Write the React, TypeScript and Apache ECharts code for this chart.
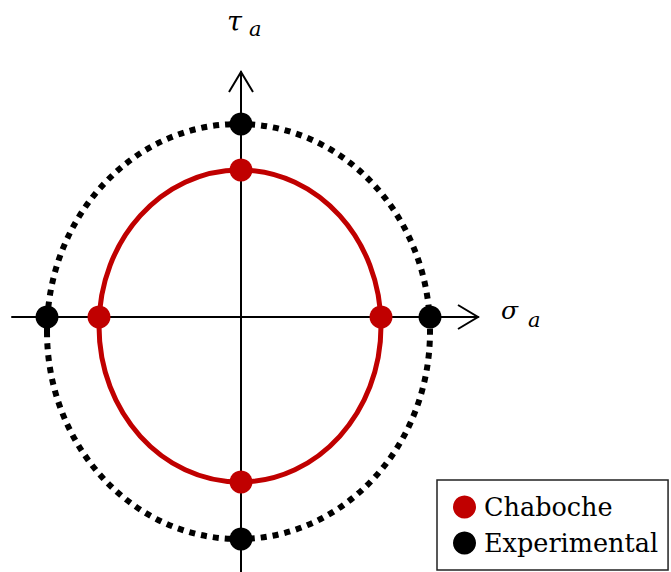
import React, { useEffect, useRef } from "react";
import * as echarts from "echarts";

// Axis extents (data units, origin at the axes' crossing)
const xRange = [-229, 237];
const yRange = [-255, 245];

// Ellipses: [centerX, centerY, radiusX, radiusY]
const chabocheEllipse = [[-1, -9, 141, 156]];
const experimentalEllipse = [[-2.5, -14.5, 191.5, 207.5]];

// Points on the axes
const chabochePoints = [[-142, 0], [140, 0], [0, 147], [0, -165]];
const experimentalPoints = [[-194, 0], [189, 0], [0, 193], [0, -222]];

// Arrow tips
const arrowTips = [[237, 0, 0], [0, 245, 1]];

const seriesNames = ["Chaboche", "Experimental"];
const RED = "#c00000";
const BLACK = "#000000";

export default function App() {
  const ref = useRef<HTMLDivElement>(null);
  useEffect(() => {
    const chart = echarts.init(ref.current!, null, { renderer: "svg" });
    const ellipseRender = (color: string, dash: number[] | null) => (params: any, api: any) => {
      const c = api.coord([api.value(0), api.value(1)]);
      const s = api.size([api.value(2), api.value(3)]);
      return {
        type: "ellipse",
        shape: { cx: c[0], cy: c[1], rx: s[0], ry: s[1] },
        style: { fill: "none", stroke: color, lineWidth: dash ? 6 : 5, lineDash: dash || undefined },
      };
    };
    chart.setOption({
      animation: false,
      grid: { left: 12, right: 671 - 478, top: 72, bottom: 0, containLabel: false },
      xAxis: {
        type: "value",
        min: xRange[0],
        max: xRange[1],
        axisLine: { show: true, onZero: true, lineStyle: { color: "#000", width: 2 } },
        axisTick: { show: false },
        axisLabel: { show: false },
        splitLine: { show: false },
      },
      yAxis: {
        type: "value",
        min: yRange[0],
        max: yRange[1],
        axisLine: { show: true, onZero: true, lineStyle: { color: "#000", width: 2 } },
        axisTick: { show: false },
        axisLabel: { show: false },
        splitLine: { show: false },
      },
      legend: {
        data: seriesNames,
        orient: "vertical",
        left: 437,
        top: 480,
        icon: "circle",
        itemWidth: 23,
        itemHeight: 23,
        itemGap: 10,
        padding: [14, 10, 14, 16],
        borderColor: "#222",
        borderWidth: 1.5,
        backgroundColor: "#fff",
        textStyle: { fontFamily: "DejaVu Serif", fontSize: 25.5, color: "#000", lineHeight: 24, padding: [0, 0, 0, 3] },
      },
      graphic: [
        { type: "text", left: 227, top: 8, style: { text: "τ", font: "italic 27px 'DejaVu Serif'", fill: "#000" } },
        { type: "text", left: 249, top: 18, style: { text: "a", font: "italic 21px 'DejaVu Serif'", fill: "#000" } },
        { type: "text", left: 501, top: 298, style: { text: "σ", font: "italic 25px 'DejaVu Serif'", fill: "#000" } },
        { type: "text", left: 528, top: 309, style: { text: "a", font: "italic 21px 'DejaVu Serif'", fill: "#000" } },
      ],
      series: [
        {
          type: "custom",
          name: "experimental-curve",
          data: experimentalEllipse,
          encode: { x: 0, y: 1 },
          renderItem: ellipseRender(BLACK, [6, 6]),
          z: 2,
        },
        {
          type: "custom",
          name: "chaboche-curve",
          data: chabocheEllipse,
          encode: { x: 0, y: 1 },
          renderItem: ellipseRender(RED, null),
          z: 2,
        },
        {
          type: "custom",
          name: "arrows",
          data: arrowTips,
          encode: { x: 0, y: 1 },
          renderItem: (params: any, api: any) => {
            const p = api.coord([api.value(0), api.value(1)]);
            const horiz = api.value(2) === 0;
            const pts = horiz
              ? [[p[0] - 20, p[1] - 12], [p[0], p[1]], [p[0] - 20, p[1] + 12]]
              : [[p[0] - 12, p[1] + 20], [p[0], p[1]], [p[0] + 12, p[1] + 20]];
            return { type: "polyline", shape: { points: pts }, style: { fill: "none", stroke: "#000", lineWidth: 2 } };
          },
          z: 3,
        },
        {
          type: "scatter",
          name: seriesNames[0],
          data: chabochePoints,
          symbol: "circle",
          symbolSize: 23,
          itemStyle: { color: RED, opacity: 1 },
          z: 5,
        },
        {
          type: "scatter",
          name: seriesNames[1],
          data: experimentalPoints,
          symbol: "circle",
          symbolSize: 23,
          itemStyle: { color: BLACK, opacity: 1 },
          z: 5,
        },
      ],
    });
    return () => chart.dispose();
  }, []);
  return <div ref={ref} style={{ position: "fixed", left: 0, top: 0, width: 671, height: 572, background: "#fff" }} />;
}
